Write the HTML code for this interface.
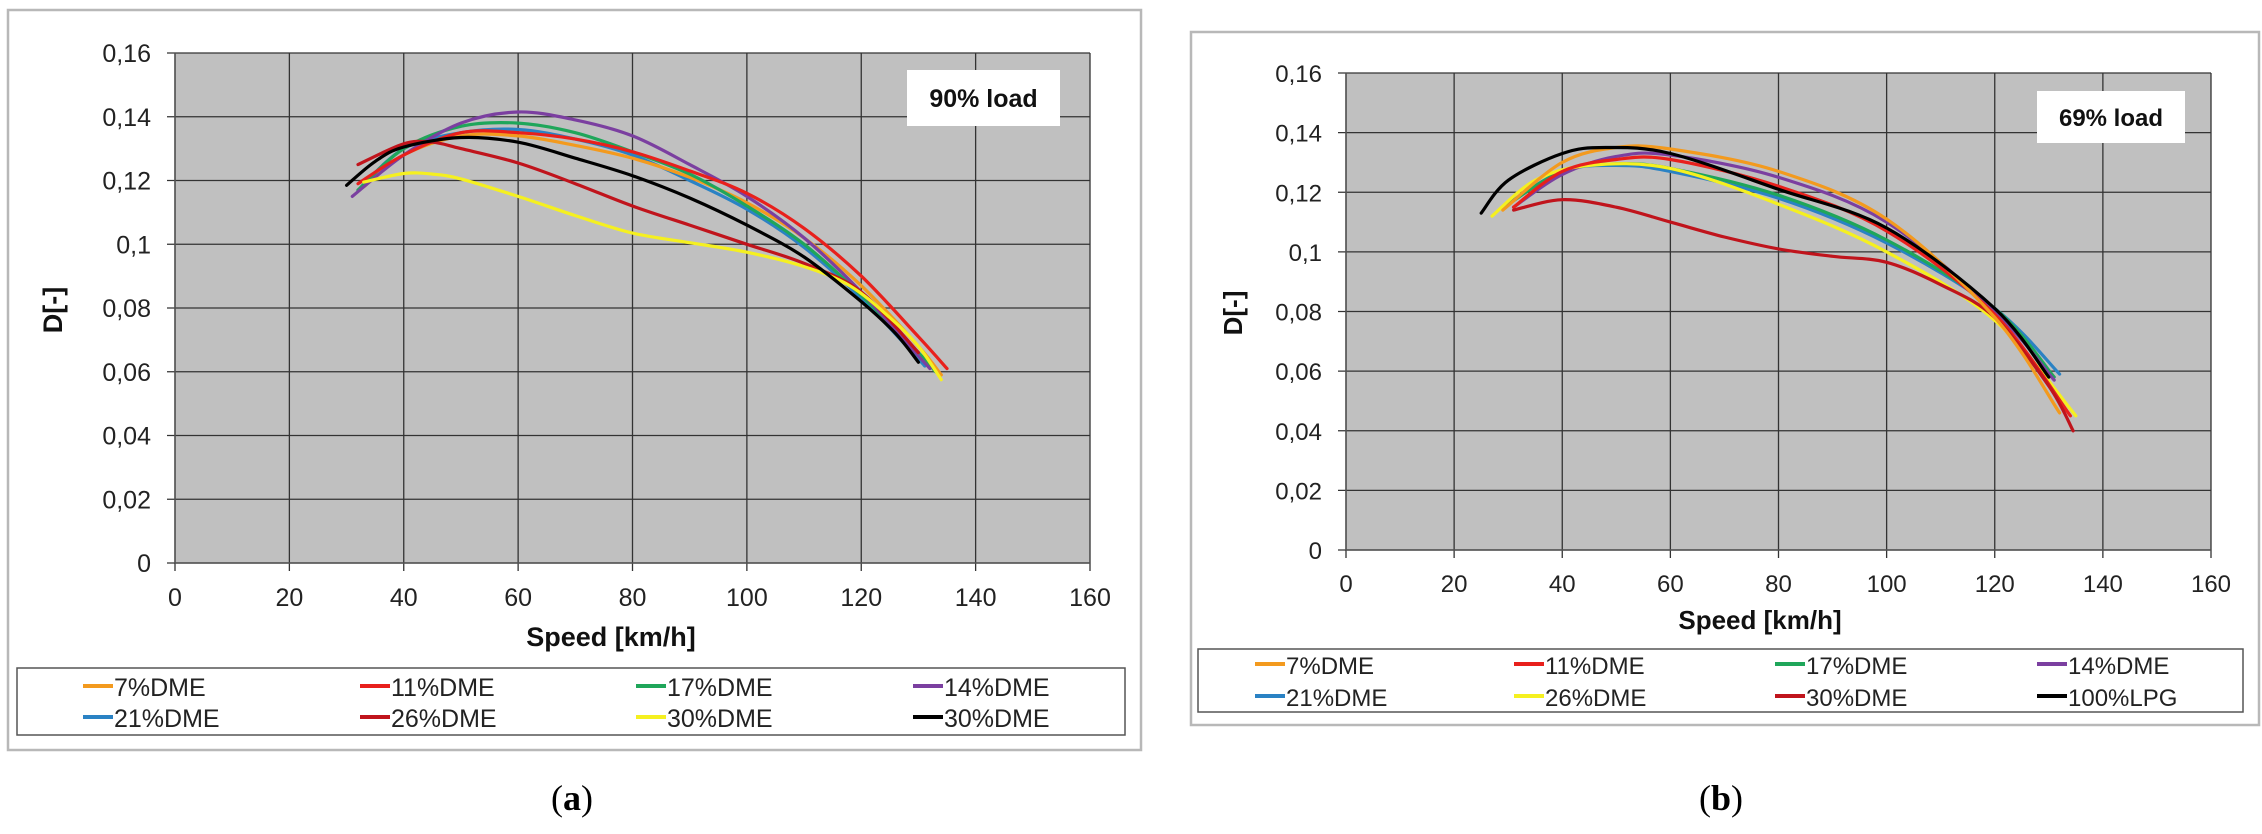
<!DOCTYPE html>
<html><head><meta charset="utf-8">
<style>
html,body{margin:0;padding:0;background:#fff;}
body{width:2262px;height:829px;overflow:hidden;position:relative;}
svg text{font-family:"Liberation Sans",Arial,sans-serif;}
</style></head>
<body>
<svg id="fig" width="2262" height="829" xmlns="http://www.w3.org/2000/svg">
  <rect x="8" y="10" width="1133" height="740" fill="#fff" stroke="#b8b8b8" stroke-width="2.5"/>
  <rect x="1191" y="32" width="1068" height="693" fill="#fff" stroke="#b8b8b8" stroke-width="2.5"/>
  <g id="chartA"></g>
  <g id="chartB"></g>
  <text x="572" y="810" text-anchor="middle" font-size="36" style="font-family:'Liberation Serif',serif">(<tspan font-weight="bold">a</tspan>)</text>
  <text x="1721" y="810" text-anchor="middle" font-size="36" style="font-family:'Liberation Serif',serif">(<tspan font-weight="bold">b</tspan>)</text>
</svg>
<script>
// ---------- Chart (a): 90% load ----------
const aNames = ["7%DME","11%DME","17%DME","14%DME","21%DME","26%DME","30%DME","30%DME"];
const aColors = ["#f39a1e","#e8201c","#1fa65a","#7b3fa0","#2a82c4","#c0141c","#f5f020","#000000"];
const aSpeed7  = [33,40,50,60,70,80,90,100,110,120,130,134];
const aD7      = [0.118,0.128,0.134,0.134,0.131,0.127,0.121,0.113,0.102,0.087,0.068,0.059];
const aSpeed11 = [32,40,50,60,70,80,90,100,110,120,130,135];
const aD11     = [0.119,0.128,0.135,0.135,0.133,0.129,0.123,0.116,0.105,0.090,0.071,0.061];
const aSpeed17 = [32,40,50,60,70,80,90,100,110,120,130,133];
const aD17     = [0.117,0.130,0.137,0.138,0.135,0.129,0.122,0.112,0.100,0.084,0.066,0.060];
const aSpeed14 = [31,40,50,60,70,80,90,100,110,120,130,132];
const aD14     = [0.115,0.128,0.138,0.1415,0.139,0.134,0.125,0.115,0.102,0.085,0.065,0.061];
const aSpeed21 = [32,40,50,60,70,80,90,100,110,120,130,131];
const aD21     = [0.117,0.130,0.135,0.136,0.133,0.128,0.120,0.111,0.099,0.083,0.064,0.062];
const aSpeed26 = [32,40,45,50,60,70,80,90,100,110,120,130];
const aD26     = [0.125,0.1315,0.132,0.130,0.1255,0.119,0.112,0.106,0.100,0.094,0.085,0.066];
const aSpeed30 = [33,40,45,50,60,70,80,90,100,110,118,125,130,134];
const aD30     = [0.1195,0.1222,0.122,0.1205,0.115,0.109,0.1035,0.1005,0.0975,0.093,0.087,0.077,0.068,0.0575];
const aSpeed30b= [30,35,40,50,60,70,80,90,100,110,120,126,130];
const aD30b    = [0.1185,0.126,0.1305,0.1335,0.132,0.127,0.1215,0.1145,0.106,0.096,0.082,0.072,0.063];
const aDrawOrder = [4,0,2,3,1,5,6,7];

// ---------- Chart (b): 69% load ----------
const bNames = ["7%DME","11%DME","17%DME","14%DME","21%DME","26%DME","30%DME","100%LPG"];
const bColors = ["#f39a1e","#e8201c","#1fa65a","#7b3fa0","#2a82c4","#f5f020","#c0141c","#000000"];
const bSpeed7  = [29,40,50,60,80,100,120,132];
const bD7      = [0.114,0.130,0.135,0.1345,0.127,0.111,0.078,0.046];
const bSpeed11 = [31,40,50,60,80,100,120,134];
const bD11     = [0.115,0.127,0.131,0.131,0.122,0.107,0.079,0.045];
const bSpeed17 = [30,40,50,60,80,100,120,131];
const bD17     = [0.116,0.127,0.1295,0.128,0.119,0.104,0.081,0.058];
const bSpeed14 = [31,40,50,60,80,100,120,131];
const bD14     = [0.115,0.126,0.132,0.1325,0.125,0.110,0.080,0.057];
const bSpeed21 = [29,40,50,60,80,100,120,132];
const bD21     = [0.115,0.127,0.129,0.127,0.118,0.103,0.081,0.059];
const bSpeed26 = [27,35,45,60,80,100,120,135];
const bD26     = [0.112,0.124,0.129,0.128,0.116,0.100,0.077,0.045];
const bSpeed30 = [31,40,50,60,70,80,90,100,110,120,130,134.5];
const bD30     = [0.114,0.1175,0.115,0.110,0.105,0.101,0.0985,0.0965,0.089,0.078,0.055,0.040];
const bSpeedLPG= [25,30,40,48,60,80,100,120,130];
const bDLPG    = [0.113,0.124,0.133,0.135,0.133,0.121,0.108,0.081,0.058];
const bDrawOrder = [4,2,3,5,1,6,0,7];

const xTicks = [0,20,40,60,80,100,120,140,160];
const yTicks = [0,0.02,0.04,0.06,0.08,0.1,0.12,0.14,0.16];
const yTickLabels = ["0","0,02","0,04","0,06","0,08","0,1","0,12","0,14","0,16"];

const NS = "http://www.w3.org/2000/svg";
function mk(parent, tag, attrs){
  const e = document.createElementNS(NS, tag);
  for (const k in attrs) e.setAttribute(k, attrs[k]);
  parent.appendChild(e);
  return e;
}
function smoothPath(pts){
  let d = "M" + pts[0][0].toFixed(1) + "," + pts[0][1].toFixed(1);
  for (let i = 0; i < pts.length - 1; i++){
    const p0 = pts[i-1] || pts[i], p1 = pts[i], p2 = pts[i+1], p3 = pts[i+2] || pts[i+1];
    const c1x = p1[0] + (p2[0]-p0[0])/6, c1y = p1[1] + (p2[1]-p0[1])/6;
    const c2x = p2[0] - (p3[0]-p1[0])/6, c2y = p2[1] - (p3[1]-p1[1])/6;
    d += " C" + c1x.toFixed(1)+","+c1y.toFixed(1)+" "+c2x.toFixed(1)+","+c2y.toFixed(1)+" "+p2[0].toFixed(1)+","+p2[1].toFixed(1);
  }
  return d;
}

function drawChart(g, cfg){
  const X = v => cfg.left + (v/160)*(cfg.right-cfg.left);
  const Y = d => cfg.bottom - (d/0.16)*(cfg.bottom-cfg.top);
  const bg = mk(g, "rect", {x:cfg.left, y:cfg.top, width:cfg.right-cfg.left, height:cfg.bottom-cfg.top, fill:"#c0c0c0"});
  
  
  yTicks.forEach((t,i) => {
    const ln = mk(g, "line", {x1:cfg.left-8, x2:cfg.right, y1:Y(t), y2:Y(t), stroke:"#333", "stroke-width":1.3});
    
    
    const tx = mk(g, "text", {x:cfg.left-24, y:Y(t)+9, "text-anchor":"end", "font-size":cfg.fs, fill:"#222"});
    tx.textContent = yTickLabels[i];
    
    
  });
  xTicks.forEach(t => {
    const ln = mk(g, "line", {x1:X(t), x2:X(t), y1:cfg.top, y2:cfg.bottom+8, stroke:"#333", "stroke-width":1.3});
    
    
    const tx = mk(g, "text", {x:X(t), y:cfg.xLabelY, "text-anchor":"middle", "font-size":cfg.fs, fill:"#222"});
    tx.textContent = String(t);
    
    
  });
  const ax = mk(g, "line", {x1:cfg.left, x2:cfg.left, y1:cfg.top, y2:cfg.bottom, stroke:"#555", "stroke-width":1.5});
  
  
  const ax2 = mk(g, "line", {x1:cfg.left, x2:cfg.right, y1:cfg.bottom, y2:cfg.bottom, stroke:"#555", "stroke-width":1.5});
  
  

  cfg.order.forEach(i => {
    const s = cfg.series[i];
    const pts = s.sp.map((v,k) => [X(v), Y(s.d[k])]);
    const p = mk(g, "path", {d:smoothPath(pts), fill:"none", stroke:cfg.colors[i], "stroke-width":3.2, "stroke-linecap":"round"});
    
    
  });

  // load label box
  const lb = mk(g, "rect", {x:cfg.box[0], y:cfg.box[1], width:cfg.box[2], height:cfg.box[3], fill:"#fff"});
  
  
  const lt = mk(g, "text", {x:cfg.box[0]+cfg.box[2]/2, y:cfg.box[1]+cfg.box[3]/2+9, "text-anchor":"middle", "font-size":cfg.fs, "font-weight":"bold", fill:"#111"});
  lt.textContent = cfg.loadText;
  
  

  const yt = mk(g, "text", {x:0, y:0, transform:"translate("+cfg.yTitle[0]+","+cfg.yTitle[1]+") rotate(-90)", "text-anchor":"middle", "font-size":cfg.fs+2, "font-weight":"bold", fill:"#111"});
  yt.textContent = "D[-]";
  
  
  const xt = mk(g, "text", {x:cfg.xTitle[0], y:cfg.xTitle[1], "text-anchor":"middle", "font-size":cfg.fs+2, "font-weight":"bold", fill:"#111"});
  xt.textContent = "Speed [km/h]";
  
  

  const lg = mk(g, "rect", {x:cfg.legend[0], y:cfg.legend[1], width:cfg.legend[2], height:cfg.legend[3], fill:"#fff", stroke:"#555", "stroke-width":1.5});
  
  
  cfg.names.forEach((n,i) => {
    const col = i % 4, row = Math.floor(i/4);
    const lx = cfg.legCols[col], ly = cfg.legRows[row];
    const sw = mk(g, "line", {x1:lx, x2:lx+30, y1:ly, y2:ly, stroke:cfg.colors[i], "stroke-width":4});
    
    
    const tx = mk(g, "text", {x:lx+31, y:ly+10, "font-size":cfg.legFs, fill:"#222"});
    tx.textContent = n;
    
    
  });
}

drawChart(document.getElementById("chartA"), {
  left:175, right:1090, top:53, bottom:563, fs:25, xLabelY:606,
  series:[{sp:aSpeed7,d:aD7},{sp:aSpeed11,d:aD11},{sp:aSpeed17,d:aD17},{sp:aSpeed14,d:aD14},
          {sp:aSpeed21,d:aD21},{sp:aSpeed26,d:aD26},{sp:aSpeed30,d:aD30},{sp:aSpeed30b,d:aD30b}],
  colors:aColors, names:aNames, order:aDrawOrder,
  box:[907,70,153,56], loadText:"90% load",
  yTitle:[62,310], xTitle:[611,646],
  legend:[17,668,1108,67], legCols:[83,360,636,913], legRows:[686,717], legFs:25
});
drawChart(document.getElementById("chartB"), {
  left:1346, right:2211, top:73, bottom:550, fs:24, xLabelY:592,
  series:[{sp:bSpeed7,d:bD7},{sp:bSpeed11,d:bD11},{sp:bSpeed17,d:bD17},{sp:bSpeed14,d:bD14},
          {sp:bSpeed21,d:bD21},{sp:bSpeed26,d:bD26},{sp:bSpeed30,d:bD30},{sp:bSpeedLPG,d:bDLPG}],
  colors:bColors, names:bNames, order:bDrawOrder,
  box:[2037,91,148,52], loadText:"69% load",
  yTitle:[1242,313], xTitle:[1760,629],
  legend:[1198,649,1045,63], legCols:[1255,1514,1775,2037], legRows:[664,696], legFs:24
});
</script>
</body></html>
